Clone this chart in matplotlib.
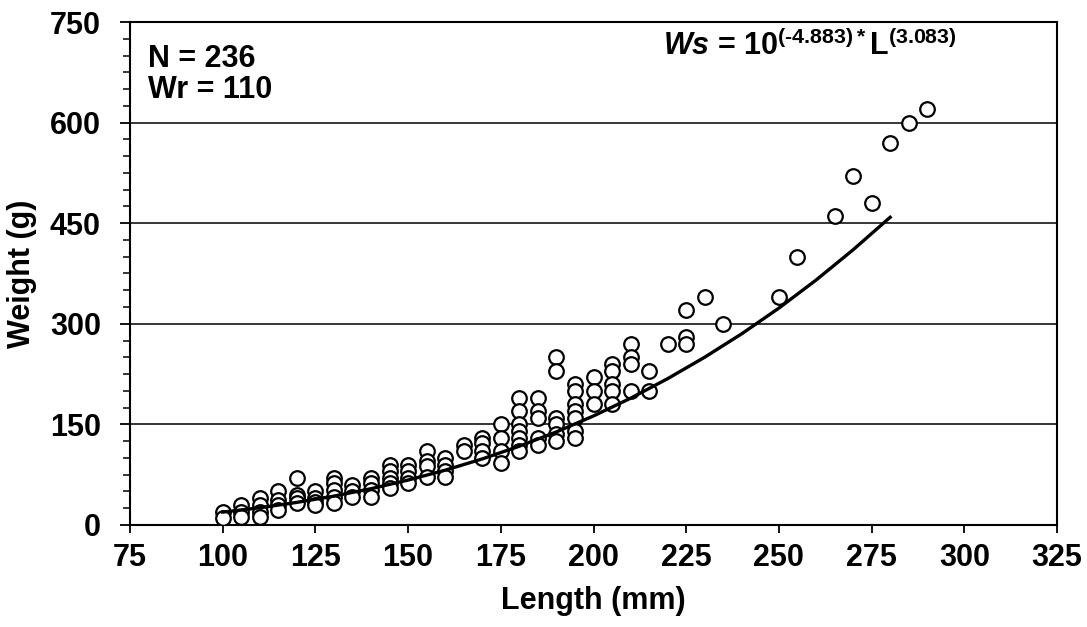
import numpy as np
import matplotlib.pyplot as plt
from matplotlib.ticker import MultipleLocator

plt.rcParams['font.family'] = 'Liberation Sans'
plt.rcParams['font.weight'] = 'bold'
plt.rcParams['mathtext.fontset'] = 'custom'
plt.rcParams['mathtext.rm'] = 'Liberation Sans:bold'
plt.rcParams['mathtext.it'] = 'Liberation Sans:bold:italic'
plt.rcParams['mathtext.bf'] = 'Liberation Sans:bold'

# observed weights (g) grouped by length (mm)
obs = {
    100: [20, 10],
    105: [30, 20, 12],
    110: [40, 30, 20, 12],
    115: [50, 38, 30, 22],
    120: [70, 45, 40, 33],
    125: [50, 40, 35, 30],
    130: [70, 62, 52, 42, 33],
    135: [60, 50, 42],
    140: [70, 62, 52, 42],
    145: [90, 80, 70, 62, 55],
    150: [90, 80, 70, 62],
    155: [110, 95, 88, 72],
    160: [100, 90, 80, 72],
    165: [120, 110],
    170: [130, 122, 110, 100],
    175: [150, 130, 110, 92],
    180: [190, 170, 150, 140, 130, 120, 110],
    185: [190, 170, 160, 130, 120],
    190: [250, 230, 160, 150, 135, 125],
    195: [210, 200, 180, 170, 160, 140, 130],
    200: [220, 200, 180],
    205: [240, 230, 210, 200, 180],
    210: [270, 250, 240, 200],
    215: [230, 200],
    220: [270],
    225: [320, 280, 270],
    230: [340],
    235: [300],
    250: [340],
    255: [400],
    265: [460],
    270: [520],
    275: [480],
    280: [570],
    285: [600],
    290: [620],
}
length = [L for L, ws in obs.items() for _ in ws]
weight = [w for ws in obs.values() for w in ws]

# standard weight curve Ws
curve_len = [100, 110, 120, 130, 140, 150, 160, 170, 180, 190,
             200, 210, 220, 230, 240, 250, 260, 270, 280]
curve_ws = [19.2, 25.7, 33.7, 43.1, 54.1, 67.0, 81.7, 98.5, 117.5, 138.8,
            162.6, 189.0, 218.2, 250.2, 285.2, 323.4, 365.1, 410.3, 458.8]

fig = plt.figure(figsize=(10.87, 6.27), dpi=100)
ax = fig.add_axes([0.1196, 0.1627, 0.8528, 0.8022])

ax.grid(axis='y', color='black', linewidth=1.1, zorder=0)
ax.set_axisbelow(True)
ax.plot(length, weight, 'o', ms=10.5, mfc='white', mec='black', mew=1.6, zorder=3)
ax.plot(curve_len, curve_ws, color='black', lw=2.4, zorder=4)

ax.set_xlim(75, 325)
ax.set_ylim(0, 750)
ax.set_xticks(np.arange(75, 326, 25))
ax.set_yticks(np.arange(0, 751, 150))
ax.yaxis.set_minor_locator(MultipleLocator(25))
ax.tick_params(axis='both', labelsize=22, width=1.3, direction='out')
ax.tick_params(axis='x', length=6, pad=7)
ax.tick_params(axis='y', which='major', length=7, pad=14)
ax.tick_params(axis='y', which='minor', length=5, width=1.1)
for s in ax.spines.values():
    s.set_linewidth(1.5)

ax.set_xlabel('Length (mm)', fontsize=22, fontweight='bold')
ax.set_ylabel('Weight (g)', fontsize=22, fontweight='bold')
ax.xaxis.set_label_coords(0.5, -0.122)
ax.yaxis.set_label_coords(-0.100, 0.5)

ax.text(0.019, 0.957, 'N = 236\nWr = 110', transform=ax.transAxes,
        fontsize=22, fontweight='bold', va='top', ha='left', linespacing=1.06)
ax.text(0.892, 0.985, '$\\mathit{Ws}$ = 10$^{(\u20104.883)*}$L$^{(3.083)}$',
        transform=ax.transAxes, fontsize=22, fontweight='bold', va='top', ha='right')

fig.savefig('out.png', dpi=100)
